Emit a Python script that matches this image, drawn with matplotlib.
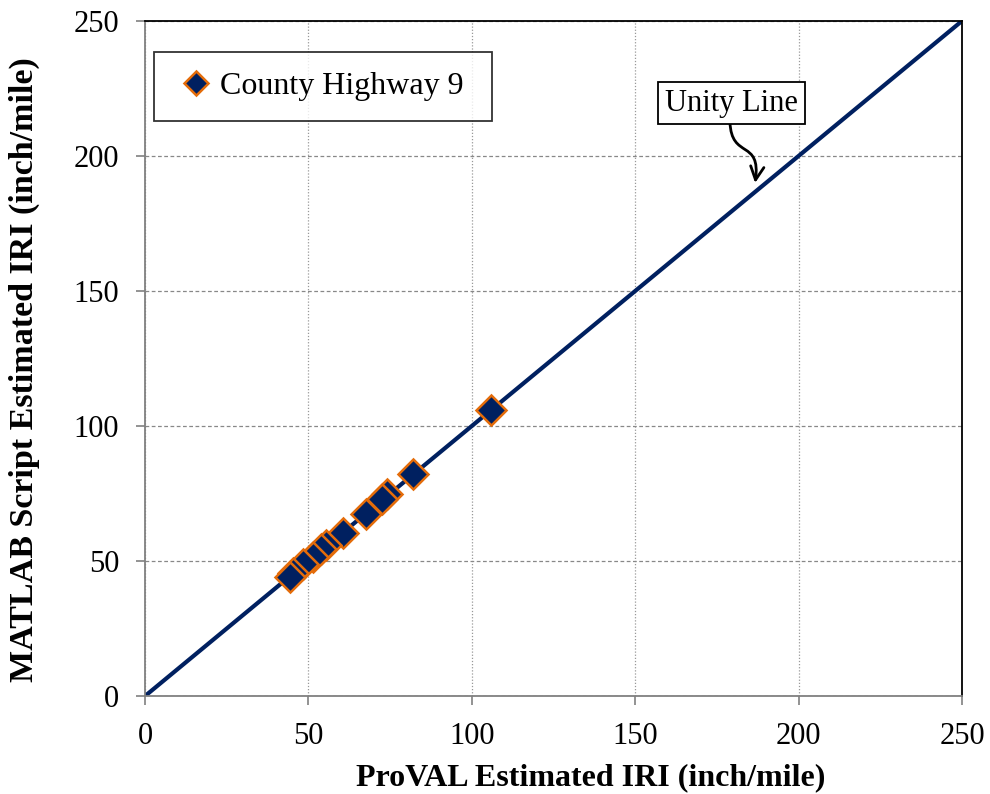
import matplotlib.pyplot as plt
import numpy as np
from matplotlib.path import Path
from matplotlib.patches import FancyArrowPatch

plt.rcParams['font.family'] = ['Liberation Serif', 'DejaVu Serif']

proval = [105.9, 81.9, 73.9, 72.4, 67.6, 60.5, 55.4, 53.7, 51.3, 48.4, 45.4, 44.4]
matlab = [105.9, 82.2, 74.8, 72.8, 67.4, 60.5, 55.9, 54.3, 51.6, 48.9, 45.7, 44.2]
unity = [0, 250]

navy = '#002060'
orange = '#E46C0A'

fig = plt.figure(figsize=(9.9, 7.94), dpi=100)
ax = fig.add_axes([0.1465, 0.1234, 0.8252, 0.8502])

ax.plot(unity, unity, color=navy, lw=3.0, zorder=2)
ax.plot(proval, matlab, linestyle='none', marker='D', ms=15, mfc=navy,
        mec=orange, mew=1.8, label='County Highway 9', zorder=3)

ax.set_xlim(0, 250)
ax.set_ylim(0, 250)
ax.set_xticks(np.arange(0, 251, 50))
ax.set_yticks(np.arange(0, 251, 50))
ax.yaxis.grid(True, linestyle=(0, (3, 2)), color='#888888', lw=0.9)
ax.xaxis.grid(True, linestyle=(0, (1, 1.5)), color='#999999', lw=0.9)
ax.set_axisbelow(True)
ax.tick_params(labelsize=22, direction='out', length=6.5, width=1.2,
               color='#808080', pad=12)
for side in ['left', 'bottom']:
    ax.spines[side].set_color('#808080')
    ax.spines[side].set_linewidth(1.3)
for side in ['top', 'right']:
    ax.spines[side].set_color('black')
    ax.spines[side].set_linewidth(1.3)

ax.set_xlabel('ProVAL Estimated IRI (inch/mile)', fontsize=23, fontweight='bold')
ax.set_ylabel('MATLAB Script Estimated IRI (inch/mile)', fontsize=24.5, fontweight='bold')
ax.xaxis.set_label_coords(0.545, -0.099)
ax.yaxis.set_label_coords(-0.128, 0.483)

leg = ax.legend(loc='upper left', bbox_to_anchor=(0.011, 0.954), fontsize=23,
                frameon=True, fancybox=False, borderpad=0.62, handletextpad=0.05,
                handlelength=1.4, markerscale=0.8, borderaxespad=0)
leg.get_frame().set_edgecolor('black')
leg.get_frame().set_linewidth(1.3)
for t in leg.get_texts():
    t.set_text('County Highway 9 ')

ax.text(179.5, 219.6, 'Unity Line', fontsize=22, ha='center', va='center',
        bbox=dict(boxstyle='square,pad=0.22', fc='white', ec='black', lw=1.3))

arrow_path = Path([(179.0, 212.6), (179.4, 198.5), (188.5, 206.5), (186.7, 190.0)],
                  [Path.MOVETO, Path.CURVE4, Path.CURVE4, Path.CURVE4])
ax.add_patch(FancyArrowPatch(path=arrow_path, arrowstyle='->', color='black',
                             lw=2.0, mutation_scale=24))

fig.savefig('out.png', dpi=100)
